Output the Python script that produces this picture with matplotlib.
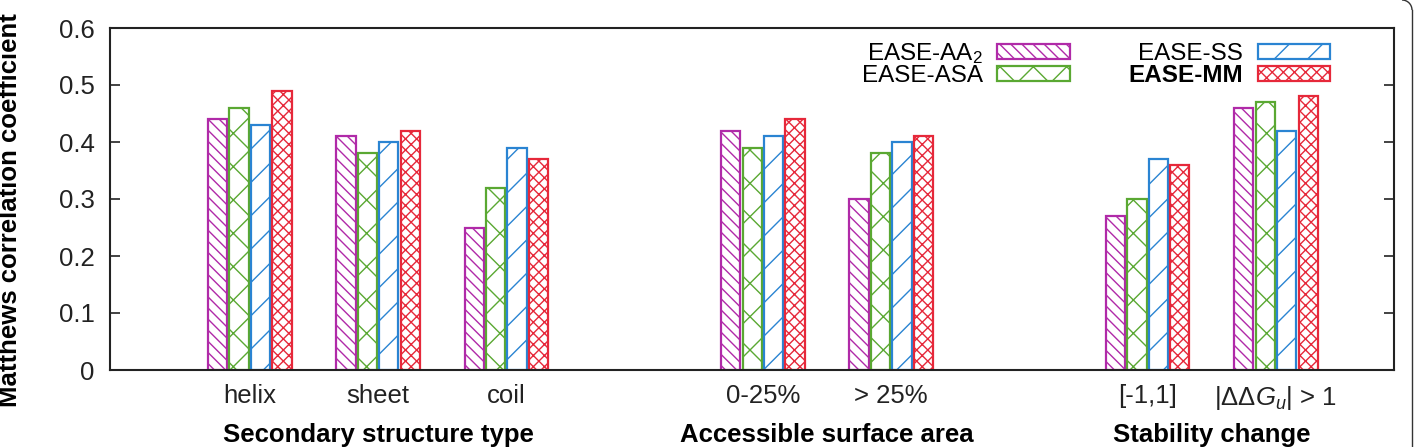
import numpy as np
import matplotlib
matplotlib.use("Agg")
import matplotlib.pyplot as plt
from matplotlib.patches import Patch, Arc
from matplotlib.lines import Line2D
from matplotlib.transforms import IdentityTransform

plt.rcParams['font.family'] = ['Liberation Sans', 'DejaVu Sans']
plt.rcParams['hatch.linewidth'] = 1.0
plt.rcParams['mathtext.fontset'] = 'custom'
plt.rcParams['mathtext.rm'] = 'Liberation Sans'
plt.rcParams['mathtext.it'] = 'Liberation Sans:italic'

# data
categories = ['helix', 'sheet', 'coil', '0-25%', '> 25%', '[-1,1]', r'$|\Delta\Delta G_u|$ > 1']
cat_pos = [1, 2, 3, 5, 6, 8, 9]
series = ['EASE-AA$_2$', 'EASE-ASA', 'EASE-SS', 'EASE-MM']
aa2 = [0.44, 0.41, 0.25, 0.42, 0.30, 0.27, 0.46]
asa = [0.46, 0.38, 0.32, 0.39, 0.38, 0.30, 0.47]
ss = [0.43, 0.40, 0.39, 0.41, 0.40, 0.37, 0.42]
mm = [0.49, 0.42, 0.37, 0.44, 0.41, 0.36, 0.48]
groups = ['Secondary structure type', 'Accessible surface area', 'Stability change']
group_pos = [2, 5.5, 8.5]

colors = ['#b02aa8', '#5aa832', '#2a84d2', '#e6283a']
hatches = ['\\\\\\', 'x', '/', 'xxx']

fs = 18.5

fig = plt.figure(figsize=(14.16, 4.47), dpi=100)
ax = fig.add_axes([110 / 1416, 1 - 370 / 447, 1284 / 1416, 342 / 447])

width = 0.15
step = 0.167
x = np.array(cat_pos, dtype=float)
handles = []
for i, (vals, c, h, lab) in enumerate(zip([aa2, asa, ss, mm], colors, hatches, series)):
    ax.bar(x + (i - 1.5) * step, vals, width, facecolor='white', edgecolor=c,
           hatch=h, linewidth=1.6, zorder=2)
    handles.append(Patch(facecolor='white', edgecolor=c, hatch=h, linewidth=1.6, label=lab))

ax.set_xlim(-0.09, 9.92)
ax.set_ylim(0, 0.6)
ax.set_yticks([0, 0.1, 0.2, 0.3, 0.4, 0.5, 0.6])
ax.set_yticklabels(['0', '0.1', '0.2', '0.3', '0.4', '0.5', '0.6'])
ax.set_xticks(cat_pos)
ax.set_xticklabels(categories)
ax.tick_params(axis='x', length=0, pad=10, labelsize=fs, colors='#222222')
ax.tick_params(axis='y', direction='in', length=7, width=1.2, right=True,
               labelsize=fs, pad=11, colors='#222222')
for s in ax.spines.values():
    s.set_linewidth(1.5)
    s.set_color('#222222')

for g, gx in zip(groups, group_pos):
    ax.text(gx, -0.19, g, ha='center', va='center', fontsize=fs,
            fontweight='bold', transform=ax.get_xaxis_transform())

fig.text(10 / 1416, 0.53, 'Matthews correlation coefficient', rotation=90,
         ha='center', va='center', fontsize=fs, fontweight='bold')

leg = ax.legend(handles=handles, ncol=2, markerfirst=False, frameon=False,
                loc='upper right', bbox_to_anchor=(0.96, 0.997), fontsize=17.5,
                handlelength=3.0, handleheight=0.55, columnspacing=2.4,
                labelspacing=-0.05, handletextpad=0.6, borderpad=0.0)
leg.get_texts()[3].set_fontweight('bold')

# right edge of the rounded figure frame
fig.add_artist(Line2D([1412, 1412], [0, 437], transform=IdentityTransform(),
                      color='#333333', linewidth=1.0))
fig.add_artist(Arc((1402, 437), 20, 20, theta1=0, theta2=90,
                   transform=IdentityTransform(), color='#333333', linewidth=1.0))

fig.savefig('out.png', dpi=100)
